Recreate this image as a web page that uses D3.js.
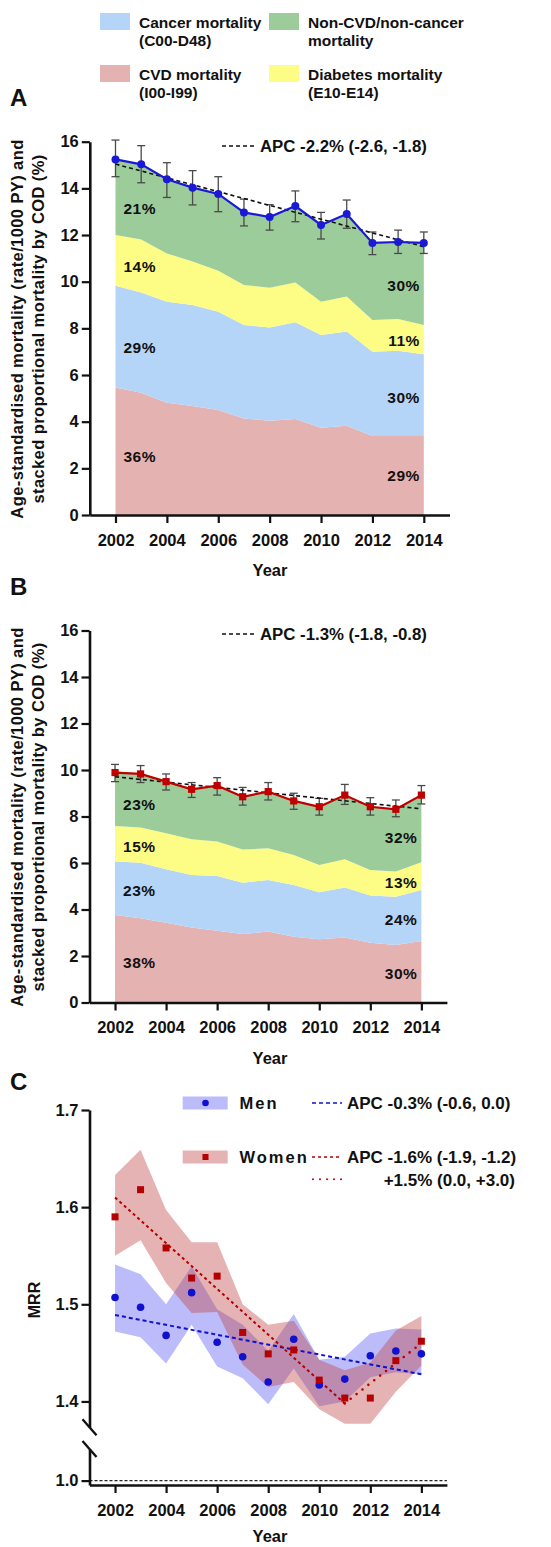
<!DOCTYPE html>
<html>
<head>
<meta charset="utf-8">
<script src="https://cdn.jsdelivr.net/npm/d3@7"></script>
<style>
  html, body { margin: 0; padding: 0; background: #fff; }
  svg text { font-family: "Liberation Sans", Arial, Helvetica, sans-serif; font-weight: bold; fill: #111; }
</style>
</head>
<body>
<svg id="chart" width="551" height="1547"></svg>
<script>
// ---------- data ----------
const years = [2002, 2003, 2004, 2005, 2006, 2007, 2008, 2009, 2010, 2011, 2012, 2013, 2014];
const tickYears = [2002, 2004, 2006, 2008, 2010, 2012, 2014];
const stackTicks = [0, 2, 4, 6, 8, 10, 12, 14, 16];
const mrrTicks = [1.4, 1.5, 1.6, 1.7];

// Panel A: men, age-standardised mortality (rate/1000 PY) by cause
const menTotal = [15.24, 15.03, 14.39, 14.03, 13.76, 12.97, 12.77, 13.24, 12.43, 12.90, 11.66, 11.70, 11.66];
const menUpper = [16.07, 15.83, 15.10, 14.76, 14.50, 13.54, 13.30, 13.89, 12.97, 13.50, 12.13, 12.21, 12.13];
const menLower = [14.50, 14.24, 13.61, 13.29, 13.00, 12.39, 12.21, 12.57, 11.83, 12.29, 11.16, 11.21, 11.21];
const menCvd = [5.46, 5.24, 4.81, 4.67, 4.50, 4.14, 4.04, 4.11, 3.74, 3.83, 3.39, 3.39, 3.39];
const menCancer = [4.37, 4.30, 4.33, 4.33, 4.21, 4.00, 4.00, 4.15, 3.97, 4.03, 3.61, 3.65, 3.50];
const menDiabetes = [2.17, 2.27, 2.07, 1.86, 1.76, 1.72, 1.70, 1.70, 1.43, 1.50, 1.36, 1.36, 1.25];
const menOther = [3.24, 3.22, 3.18, 3.17, 3.29, 3.11, 3.03, 3.28, 3.29, 3.54, 3.30, 3.30, 3.52];
const menTrend = [[2002, 15.04], [2014, 11.50]];
const menPctLeft = [["21%", 13.12], ["14%", 10.67], ["29%", 7.20], ["36%", 2.49]];
const menPctRight = [["30%", 9.82], ["11%", 7.50], ["30%", 5.06], ["29%", 1.71]];

// Panel B: women
const womenTotal = [9.89, 9.83, 9.50, 9.17, 9.33, 8.85, 9.07, 8.67, 8.42, 8.92, 8.42, 8.31, 8.92];
const womenUpper = [10.24, 10.19, 9.83, 9.46, 9.67, 9.25, 9.46, 9.00, 8.78, 9.38, 8.81, 8.71, 9.33];
const womenLower = [9.50, 9.46, 9.14, 8.82, 8.92, 8.49, 8.71, 8.31, 8.06, 8.52, 8.06, 7.99, 8.54];
const womenCvd = [3.76, 3.62, 3.43, 3.23, 3.09, 2.95, 3.05, 2.83, 2.72, 2.80, 2.57, 2.47, 2.65];
const womenCancer = [2.30, 2.39, 2.30, 2.25, 2.35, 2.20, 2.22, 2.22, 2.02, 2.15, 2.03, 2.08, 2.19];
const womenDiabetes = [1.53, 1.52, 1.55, 1.54, 1.48, 1.43, 1.36, 1.29, 1.17, 1.21, 1.10, 1.08, 1.19];
const womenOther = [2.30, 2.30, 2.22, 2.15, 2.41, 2.27, 2.44, 2.33, 2.51, 2.76, 2.72, 2.68, 2.89];
const womenTrend = [[2002, 9.71], [2014, 8.33]];
const womenPctLeft = [["23%", 8.54], ["15%", 6.73], ["23%", 4.84], ["38%", 1.74]];
const womenPctRight = [["32%", 7.08], ["13%", 5.18], ["24%", 3.59], ["30%", 1.23]];

// Panel C: mortality rate ratio (MRR) with 95% CI
const menMrr = [1.507, 1.497, 1.468, 1.512, 1.461, 1.446, 1.420, 1.464, 1.417, 1.423, 1.447, 1.452, 1.449];
const menMrrLo = [1.472, 1.466, 1.439, 1.479, 1.436, 1.424, 1.397, 1.434, 1.395, 1.400, 1.425, 1.430, 1.428];
const menMrrHi = [1.541, 1.531, 1.500, 1.539, 1.495, 1.479, 1.452, 1.490, 1.443, 1.446, 1.470, 1.475, 1.474];
const womenMrr = [1.590, 1.618, 1.558, 1.527, 1.529, 1.471, 1.449, 1.453, 1.422, 1.4035, 1.4035, 1.442, 1.462];
const womenMrrLo = [1.550, 1.566, 1.522, 1.491, 1.492, 1.438, 1.415, 1.420, 1.392, 1.377, 1.377, 1.410, 1.437];
const womenMrrHi = [1.633, 1.659, 1.597, 1.564, 1.564, 1.500, 1.479, 1.483, 1.443, 1.432, 1.440, 1.473, 1.488];
const menMrrTrend = [[2002, 1.489], [2014, 1.428]];
const womenMrrTrend1 = [[2002, 1.610], [2011, 1.398]];
const womenMrrTrend2 = [[2011, 1.398], [2014, 1.460]];

const causeKeys = ["cvd", "cancer", "diabetes", "other"];
const causeColor = { cvd: "#e5b2b2", cancer: "#b4d4f8", diabetes: "#fdfd86", other: "#9dcc9b" };

// ---------- drawing ----------
const svg = d3.select("#chart");

function styleAxis(g) {
  g.selectAll(".domain").attr("stroke", "#111").attr("stroke-width", 2.6);
  g.selectAll(".tick line").attr("stroke", "#111").attr("stroke-width", 2.2);
  g.selectAll(".tick text").attr("fill", "#111").style("font-size", "16.5px").style("font-weight", "bold");
}

function yTitle(lines, cx, cy, gap, size) {
  const t = svg.append("text")
    .attr("transform", `translate(${cx},${cy}) rotate(-90)`)
    .attr("text-anchor", "middle")
    .style("font-size", size + "px")
    .style("letter-spacing", "0.4px");
  lines.forEach((s, i) => t.append("tspan").attr("x", 0).attr("y", i * gap).text(s));
}

function stackedPanel(cfg) {
  const { x, y, cvd, cancer, diabetes, other, total, upper, lower, trend, color, marker, pctLeft, pctRight, apc, apcY, axisY } = cfg;
  const rows = years.map((yr, i) => ({ year: yr, cvd: cvd[i], cancer: cancer[i], diabetes: diabetes[i], other: other[i] }));
  const series = d3.stack().keys(causeKeys)(rows);
  const area = d3.area().x(d => x(d.data.year)).y0(d => y(d[0])).y1(d => y(d[1]));
  const g = svg.append("g");
  g.selectAll("path.band").data(series).join("path")
    .attr("class", "band").attr("d", area).attr("fill", d => causeColor[d.key]);

  // axes
  const gy = svg.append("g").attr("transform", `translate(${x.range()[0]},0)`)
    .call(d3.axisLeft(y).tickValues(stackTicks).tickSize(8).tickPadding(3).tickSizeOuter(0));
  styleAxis(gy);
  const gx = svg.append("g").attr("transform", `translate(0,${axisY})`)
    .call(d3.axisBottom(x).tickValues(tickYears).tickFormat(d3.format("d")).tickSize(8).tickPadding(11).tickSizeOuter(0));
  styleAxis(gx);

  // percentage labels
  g.selectAll("text.pl").data(pctLeft).join("text")
    .attr("x", x(2002) + 8).attr("y", d => y(d[1])).attr("dy", "0.36em")
    .style("font-size", "15.5px").style("letter-spacing", "0.5px").attr("fill", "#222").text(d => d[0]);
  g.selectAll("text.pr").data(pctRight).join("text")
    .attr("x", x(2014) - 4).attr("y", d => y(d[1])).attr("dy", "0.36em").attr("text-anchor", "end")
    .style("font-size", "15.5px").style("letter-spacing", "0.5px").attr("fill", "#222").text(d => d[0]);

  // error bars
  const eb = g.append("g").attr("stroke", "#4a4a4a").attr("stroke-width", 1.3);
  years.forEach((yr, i) => {
    const cx = x(yr);
    eb.append("line").attr("x1", cx).attr("x2", cx).attr("y1", y(upper[i])).attr("y2", y(lower[i]));
    eb.append("line").attr("x1", cx - 4).attr("x2", cx + 4).attr("y1", y(upper[i])).attr("y2", y(upper[i]));
    eb.append("line").attr("x1", cx - 4).attr("x2", cx + 4).attr("y1", y(lower[i])).attr("y2", y(lower[i]));
  });

  // APC trend
  const lineT = d3.line().x(d => x(d[0])).y(d => y(d[1]));
  g.append("path").attr("d", lineT(trend)).attr("fill", "none")
    .attr("stroke", "#111").attr("stroke-width", 1.6).attr("stroke-dasharray", "4,3");

  // observed total
  const lineO = d3.line().x((d, i) => x(years[i])).y(d => y(d));
  g.append("path").attr("d", lineO(total)).attr("fill", "none").attr("stroke", color).attr("stroke-width", 2.2);
  if (marker === "circle") {
    g.selectAll("circle.m").data(total).join("circle")
      .attr("cx", (d, i) => x(years[i])).attr("cy", d => y(d)).attr("r", 4).attr("fill", color);
  } else {
    g.selectAll("rect.m").data(total).join("rect")
      .attr("x", (d, i) => x(years[i]) - 3.6).attr("y", d => y(d) - 3.6)
      .attr("width", 7.2).attr("height", 7.2).attr("fill", color);
  }

  // APC legend
  svg.append("line").attr("x1", 222).attr("x2", 255).attr("y1", apcY - 6).attr("y2", apcY - 6)
    .attr("stroke", "#111").attr("stroke-width", 1.6).attr("stroke-dasharray", "4,3");
  svg.append("text").attr("x", 260).attr("y", apcY).style("font-size", "16.8px").text(apc);
}

// top legend
const legendItems = [
  { key: "cancer", lines: ["Cancer mortality", "(C00-D48)"], col: 0, row: 0 },
  { key: "other", lines: ["Non-CVD/non-cancer", "mortality"], col: 1, row: 0 },
  { key: "cvd", lines: ["CVD mortality", "(I00-I99)"], col: 0, row: 1 },
  { key: "diabetes", lines: ["Diabetes mortality", "(E10-E14)"], col: 1, row: 1 }
];
const legCol = [100, 269], legRow = [13, 65];
legendItems.forEach(it => {
  const sx = legCol[it.col], sy = legRow[it.row];
  svg.append("rect").attr("x", sx).attr("y", sy).attr("width", 30).attr("height", 17).attr("fill", causeColor[it.key]);
  it.lines.forEach((s, i) => svg.append("text").attr("x", sx + 39).attr("y", sy + 14.5 + i * 18.5)
    .style("font-size", "15.5px").text(s));
});

// panel letters
[["A", 106], ["B", 595], ["C", 1090]].forEach(([s, yy]) =>
  svg.append("text").attr("x", 10).attr("y", yy).style("font-size", "24px").text(s));

// Panel A
const xA = d3.scaleLinear().domain([2001, 2015]).range([89.8, 449.5]);
const yA = d3.scaleLinear().domain([0, 16]).range([515, 141.7]);
stackedPanel({ x: xA, y: yA, cvd: menCvd, cancer: menCancer, diabetes: menDiabetes, other: menOther,
  total: menTotal, upper: menUpper, lower: menLower, trend: menTrend, color: "#1a1ad6", marker: "circle",
  pctLeft: menPctLeft, pctRight: menPctRight, apc: "APC -2.2% (-2.6, -1.8)", apcY: 152, axisY: 515 });
yTitle(["Age-standardised mortality (rate/1000 PY) and", "stacked proportional mortality by COD (%)"], 23, 329, 20.5, 16.5);
svg.append("text").attr("x", 270).attr("y", 576).attr("text-anchor", "middle").style("font-size", "16.5px").text("Year");

// Panel B
const xB = d3.scaleLinear().domain([2001, 2015]).range([89.5, 446.9]);
const yB = d3.scaleLinear().domain([0, 16]).range([1002.5, 630.5]);
stackedPanel({ x: xB, y: yB, cvd: womenCvd, cancer: womenCancer, diabetes: womenDiabetes, other: womenOther,
  total: womenTotal, upper: womenUpper, lower: womenLower, trend: womenTrend, color: "#c00000", marker: "square",
  pctLeft: womenPctLeft, pctRight: womenPctRight, apc: "APC -1.3% (-1.8, -0.8)", apcY: 640, axisY: 1002.5 });
yTitle(["Age-standardised mortality (rate/1000 PY) and", "stacked proportional mortality by COD (%)"], 23, 817, 20.5, 16.5);
svg.append("text").attr("x", 270).attr("y", 1064).attr("text-anchor", "middle").style("font-size", "16.5px").text("Year");

// Panel C
const xC = d3.scaleLinear().domain([2001, 2015]).range([89.5, 446.9]);
const yC = d3.scaleLinear().domain([1.3735, 1.7]).range([1427.2, 1110]);
const yLow = d3.scaleLinear().domain([0.9955, 1.0325]).range([1485, 1449]);
const mrrColor = { men: "#1010d0", women: "#b40000" };
const bandFill = { men: "rgba(70,70,245,0.36)", women: "rgba(190,65,65,0.40)" };

const gC = svg.append("g");
const bandArea = (lo, hi) => d3.area().x((d, i) => xC(years[i])).y0((d, i) => yC(lo[i])).y1((d, i) => yC(hi[i]))(years);
gC.append("path").attr("d", bandArea(menMrrLo, menMrrHi)).attr("fill", bandFill.men);
gC.append("path").attr("d", bandArea(womenMrrLo, womenMrrHi)).attr("fill", bandFill.women);

const lineC = d3.line().x(d => xC(d[0])).y(d => yC(d[1]));
gC.append("path").attr("d", lineC(menMrrTrend)).attr("fill", "none").attr("stroke", mrrColor.men)
  .attr("stroke-width", 2).attr("stroke-dasharray", "4,3");
gC.append("path").attr("d", lineC(womenMrrTrend1)).attr("fill", "none").attr("stroke", mrrColor.women)
  .attr("stroke-width", 2).attr("stroke-dasharray", "3,3");
gC.append("path").attr("d", lineC(womenMrrTrend2)).attr("fill", "none").attr("stroke", mrrColor.women)
  .attr("stroke-width", 2.6).attr("stroke-linecap", "round").attr("stroke-dasharray", "0,7.5");

gC.selectAll("circle.men").data(menMrr).join("circle").attr("class", "men")
  .attr("cx", (d, i) => xC(years[i])).attr("cy", d => yC(d)).attr("r", 3.8).attr("fill", mrrColor.men);
gC.selectAll("rect.women").data(womenMrr).join("rect").attr("class", "women")
  .attr("x", (d, i) => xC(years[i]) - 3.5).attr("y", d => yC(d) - 3.5)
  .attr("width", 7).attr("height", 7).attr("fill", mrrColor.women);

// reference line at MRR = 1
svg.append("line").attr("x1", xC.range()[0]).attr("x2", xC.range()[1]).attr("y1", yLow(1)).attr("y2", yLow(1))
  .attr("stroke", "#222").attr("stroke-width", 1.2).attr("stroke-dasharray", "3,2");

// broken y axis
const gyC = svg.append("g").attr("transform", `translate(${xC.range()[0]},0)`)
  .call(d3.axisLeft(yC).tickValues(mrrTicks).tickFormat(d3.format(".1f")).tickSize(8).tickPadding(3).tickSizeOuter(0));
styleAxis(gyC);
const gyL = svg.append("g").attr("transform", `translate(${xC.range()[0]},0)`)
  .call(d3.axisLeft(yLow).tickValues([1.0]).tickFormat(d3.format(".1f")).tickSize(8).tickPadding(3).tickSizeOuter(0));
styleAxis(gyL);
[yC.range()[0], yLow.range()[1]].forEach(yy => {
  svg.append("line").attr("x1", xC.range()[0] - 7).attr("x2", xC.range()[0] + 7)
    .attr("y1", yy - 8).attr("y2", yy + 8).attr("stroke", "#111").attr("stroke-width", 2.4);
});
const gxC = svg.append("g").attr("transform", `translate(0,1485)`)
  .call(d3.axisBottom(xC).tickValues(tickYears).tickFormat(d3.format("d")).tickSize(8).tickPadding(11).tickSizeOuter(0));
styleAxis(gxC);
svg.append("text").attr("x", 270).attr("y", 1542).attr("text-anchor", "middle").style("font-size", "16.5px").text("Year");
svg.append("text").attr("transform", "translate(40,1300) rotate(-90)").attr("text-anchor", "middle")
  .style("font-size", "16px").text("MRR");

// Panel C legend
const legC = [
  { key: "men", label: "Men", y: 1103, marker: "circle", apc: "APC -0.3% (-0.6, 0.0)", dash: "4,3" },
  { key: "women", label: "Women", y: 1157, marker: "square", apc: "APC -1.6% (-1.9, -1.2)", dash: "3,3" }
];
legC.forEach(it => {
  svg.append("rect").attr("x", 182.7).attr("y", it.y - 6.5).attr("width", 45).attr("height", 13).attr("fill", bandFill[it.key]);
  if (it.marker === "circle") svg.append("circle").attr("cx", 205.5).attr("cy", it.y).attr("r", 3.3).attr("fill", mrrColor.men);
  else svg.append("rect").attr("x", 202.5).attr("y", it.y - 3).attr("width", 6).attr("height", 6).attr("fill", mrrColor.women);
  svg.append("text").attr("x", 239.5).attr("y", it.y + 6).style("font-size", "16.5px").style("letter-spacing", "2px").text(it.label);
  svg.append("line").attr("x1", 312).attr("x2", 342).attr("y1", it.y).attr("y2", it.y)
    .attr("stroke", mrrColor[it.key]).attr("stroke-width", 1.6).attr("stroke-dasharray", it.dash);
  svg.append("text").attr("x", 347).attr("y", it.y + 6).style("font-size", "17px").text(it.apc);
});
svg.append("line").attr("x1", 313).attr("x2", 342).attr("y1", 1179.3).attr("y2", 1179.3)
  .attr("stroke", mrrColor.women).attr("stroke-width", 2).attr("stroke-linecap", "round").attr("stroke-dasharray", "0,7");
svg.append("text").attr("x", 515).attr("y", 1185.5).attr("text-anchor", "end").style("font-size", "17px").text("+1.5% (0.0, +3.0)");
</script>
</body>
</html>
